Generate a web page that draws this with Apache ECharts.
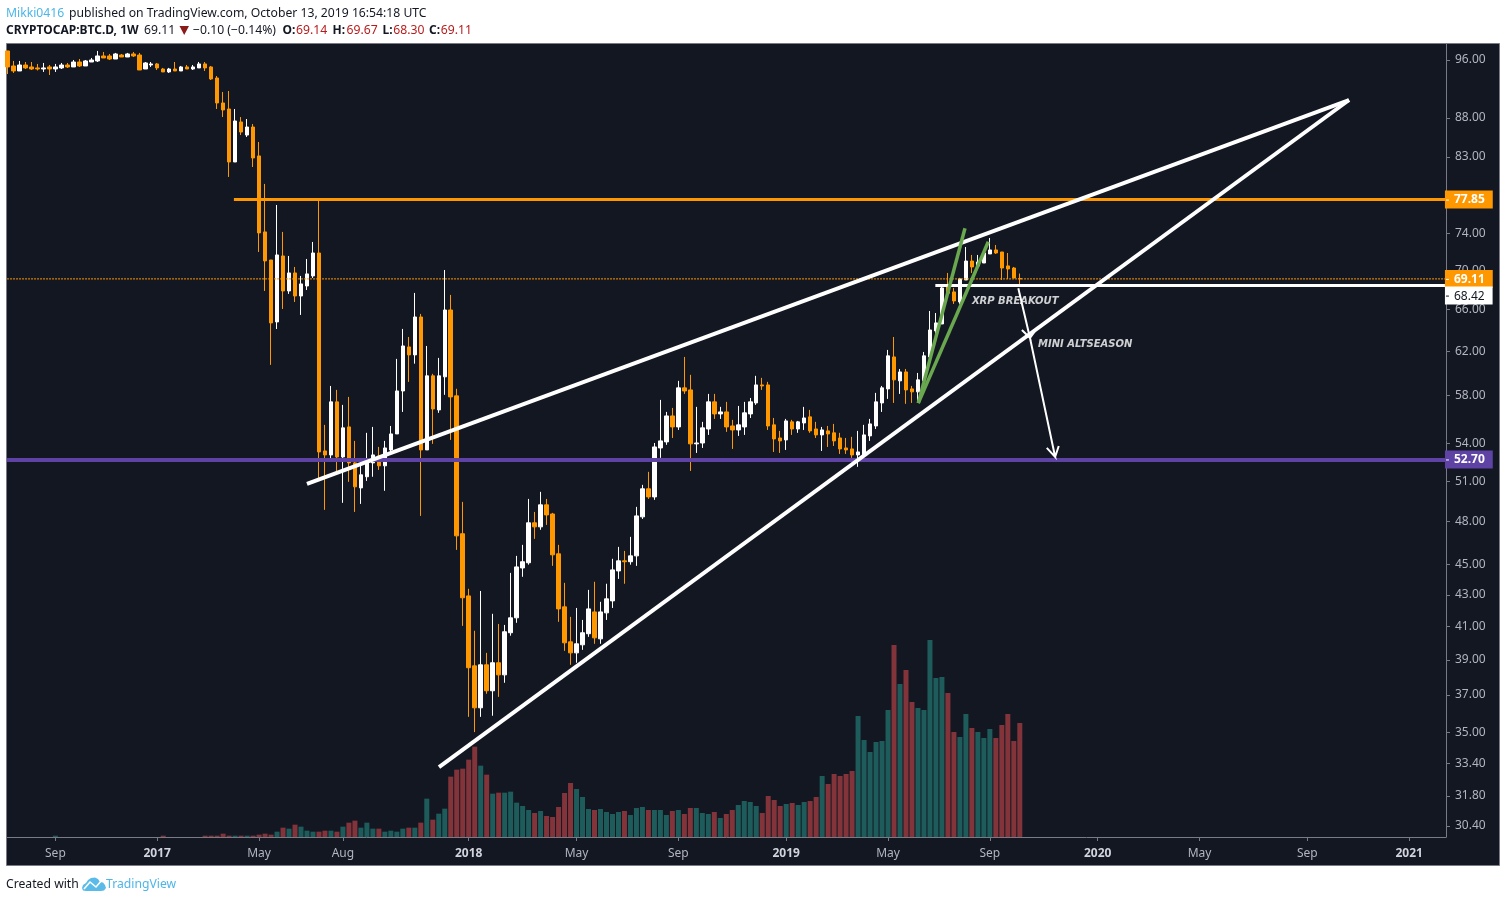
<!DOCTYPE html>
<html><head><meta charset="utf-8">
<style>html,body{margin:0;padding:0;background:#fff}#c{width:1506px;height:902px}</style>
<script src="https://cdn.jsdelivr.net/npm/echarts@6/dist/echarts.min.js"></script>
</head><body><div id="c"></div>
<script>
const opens=[97.31,95.14,94.43,95.28,95.0,94.86,94.71,95.0,94.71,94.86,95.28,95.0,95.71,95.14,95.71,95.86,96.58,96.58,96.14,96.72,96.43,96.87,96.72,94.71,95.28,95.43,94.71,94.29,94.71,94.43,95.0,94.71,94.86,95.43,95.0,93.44,90.0,89.19,82.37,87.47,85.77,86.81,83.12,74.16,71.1,64.79,71.53,67.87,69.73,67.36,68.38,69.42,71.85,53.38,53.06,57.46,52.9,55.34,52.43,50.5,51.35,52.43,52.98,52.2,53.46,54.76,58.41,62.4,61.66,65.27,53.46,59.75,56.77,59.66,65.96,57.98,47.14,42.94,38.66,36.3,38.72,37.24,38.84,38.14,40.63,41.55,44.78,45.13,47.92,47.63,49.23,48.56,45.74,42.24,40.08,39.42,39.9,40.57,41.92,40.26,41.86,42.62,44.58,45.26,45.2,45.6,48.35,50.43,49.82,53.62,54.11,56.26,55.34,58.68,58.5,53.95,54.02,55.17,57.46,56.43,56.6,55.42,55.09,55.34,56.43,57.37,58.94,58.94,55.51,54.43,54.27,55.76,55.17,55.67,56.18,55.17,54.68,55.01,54.85,54.43,53.62,53.54,53.06,53.06,54.6,55.42,57.37,58.59,61.47,59.3,60.1,58.59,58.33,59.3,61.47,63.92,64.59,68.48,67.77,66.76,69.0,70.99,70.47,70.78,71.75,72.18,71.96,70.47,70.25,69.14];
const highs=[97.31,95.86,95.86,95.71,95.71,95.43,95.57,95.28,95.43,95.57,95.57,96.0,96.14,96.0,96.29,97.31,97.16,96.87,97.02,96.87,97.02,97.16,97.02,95.71,95.71,95.57,94.86,94.86,95.71,95.14,95.28,95.28,95.71,95.71,95.14,93.72,91.5,91.63,89.19,88.12,87.86,87.2,84.88,79.7,71.1,77.22,74.16,71.53,70.36,69.42,71.21,73.05,77.85,55.51,58.85,58.5,57.2,57.89,54.19,52.2,54.85,55.34,53.7,54.19,55.42,61.29,64.11,63.34,67.67,65.57,62.49,59.93,61.38,70.04,67.47,58.6,49.45,43.4,40.75,43.26,39.42,41.8,41.17,41.11,44.45,45.6,46.36,49.67,48.71,50.2,49.67,48.64,46.36,43.79,41.61,42.17,41.42,43.33,43.86,42.56,43.73,45.4,46.22,45.94,46.92,49.08,50.73,51.73,54.02,57.63,56.6,56.94,59.3,61.47,59.84,57.03,55.76,58.15,58.15,57.03,57.46,55.93,57.11,57.46,57.8,59.75,59.57,59.21,56.09,55.01,56.01,55.93,55.84,57.03,56.77,55.76,55.34,55.42,55.59,54.85,54.43,54.52,55.01,55.51,56.01,58.24,58.85,62.12,63.34,60.37,60.37,58.85,60.01,61.93,65.86,65.66,68.3,69.73,68.18,69.21,72.5,71.64,71.64,71.96,73.49,72.72,71.96,71.85,70.36,69.67];
const lows=[94.0,94.15,94.43,94.71,94.57,94.5,94.29,93.86,94.29,94.71,94.86,95.0,95.0,95.14,95.71,95.71,96.29,96.0,96.14,96.43,96.43,96.43,94.57,94.71,95.0,94.57,94.29,94.15,94.43,94.43,94.71,94.57,94.86,94.43,93.16,89.19,88.12,80.54,82.37,85.77,85.52,81.75,71.96,67.87,60.74,64.1,66.06,67.57,66.76,65.47,67.97,69.21,51.03,48.86,52.75,51.73,49.38,50.96,48.71,49.3,51.03,51.35,51.88,50.28,53.3,54.76,56.6,59.21,60.85,48.42,53.46,53.95,56.52,58.07,54.27,46.01,41.05,35.81,35.0,35.81,37.07,35.87,36.9,37.69,40.45,41.24,44.19,45.0,46.78,47.42,47.77,44.92,41.3,39.54,38.72,38.84,39.6,40.38,39.96,39.96,41.42,42.17,44.05,43.73,45.0,44.92,48.2,49.67,49.6,52.83,53.87,54.43,55.09,58.15,51.8,53.22,53.62,54.68,56.01,56.01,54.93,53.54,54.6,54.68,56.09,57.2,58.5,55.09,53.3,53.22,53.46,54.68,54.85,55.09,54.85,54.43,53.38,53.7,53.78,53.14,53.14,52.83,52.12,53.0,54.19,55.17,56.6,57.72,57.37,58.15,57.29,57.37,57.37,59.12,61.38,62.78,64.59,67.26,66.56,66.56,69.0,69.73,70.36,70.78,71.75,71.75,69.0,69.11,69.21,68.30];
const closes=[95.0,94.43,95.28,94.86,94.71,94.71,94.86,94.71,95.0,95.28,95.0,95.71,95.14,95.86,96.0,96.58,96.29,96.14,96.87,96.43,96.87,96.58,94.57,95.57,95.43,94.86,94.29,94.71,94.43,95.0,94.71,95.0,95.43,94.86,93.3,90.0,89.06,82.37,87.6,86.16,86.81,82.87,74.05,71.0,64.69,71.64,67.87,69.73,67.36,68.59,69.63,71.85,53.3,53.06,57.46,52.9,55.26,52.43,50.58,51.5,52.6,53.06,52.2,53.62,54.76,58.41,62.49,61.66,65.27,53.46,59.75,56.85,59.75,65.96,57.89,46.99,42.82,38.55,36.3,38.72,37.24,38.84,38.14,40.69,41.55,44.85,45.2,47.92,47.63,49.23,48.49,45.67,42.11,40.02,39.42,39.96,40.63,42.11,40.32,41.92,42.75,44.65,45.26,45.2,45.6,48.42,50.43,49.82,53.7,54.19,56.26,55.34,58.68,58.41,53.95,54.02,55.26,57.46,56.43,56.6,55.34,55.09,55.51,56.52,57.46,58.94,58.85,55.42,54.35,54.19,55.84,55.17,55.76,56.09,55.01,54.68,55.09,54.76,54.19,53.54,53.46,53.06,53.3,54.68,55.59,57.46,58.68,61.57,59.39,60.1,58.5,58.33,59.39,61.57,64.01,64.69,68.18,67.64,66.86,69.11,70.99,70.36,70.89,71.85,72.18,71.85,70.25,70.15,69.21,69.11];
const volumes=[0,0,0,0,0,0,0,0,4,0,0,0,0,0,0,0,0,0,0,0,0,0,0,0,0,0,4,0,0,0,0,0,0,4,4,4,10,4,4,4,4,4,7,10,7,16,28,25,37,31,19,16,16,19,19,16,31,43,49,28,43,25,25,16,19,16,25,28,28,43,115,52,70,85,181,202,205,232,271,214,187,130,133,133,136,103,93,81,72,78,63,60,90,132,162,144,120,84,81,84,75,69,75,78,66,87,90,81,81,81,66,78,81,69,87,87,72,69,75,57,69,81,96,108,105,93,72,123,111,93,99,102,96,105,108,120,183,159,189,183,189,198,363,291,255,285,288,381,576,459,501,405,387,381,591,477,480,432,315,300,369,327,315,297,324,297,336,369,288,342];
const volumeAxisMax=2379;
const priceTicks=[96,88,83,74,70,66,62,58,54,51,48,45,43,41,39,37,35,33.4,31.8,30.4];
const timeTickIndex=[8,25,42,56,77,95,112,130,147,164,182,199,217,234];
const timeTickLabels=['Sep','2017','May','Aug','2018','May','Sep','2019','May','Sep','2020','May','Sep','2021'];
const upperWedge=[[50.0,50.8],[223.96,90.4]];
const lowerWedge=[[72.04,33.21],[223.96,90.4]];
const greenA=[[152.05,57.35],[159.85,74.57]];
const greenB=[[152.05,57.35],[163.74,73.08]];
const arrowPath=[[168.75,68.15],[170.7,63.25],[169.35,64.01],[170.7,63.25],[171.8,64.1],[170.7,63.25],[174.9,52.9],[173.5,53.62],[174.9,52.9],[175.5,53.78]];
const notes=[{t:'XRP BREAKOUT',p:[161.0,66.86]},{t:'MINI ALTSEASON',p:[172.04,62.6]}];
const levelResistance=77.85, levelSupport=52.70, levelLast=69.11, levelBreakout=68.42;
const xMin=-0.08, xMax=240.15, yMin=29.9, yMax=98.33;

const idx=opens.map((_,i)=>i);
const candles=idx.map(i=>[i,opens[i],closes[i],lows[i],highs[i]]);
const vols=idx.map(i=>({value:[i,volumes[i]],itemStyle:{color:closes[i]>=opens[i]?'#1d5c5b':'#82343a'}}));
const UI='"Noto Sans",sans-serif';
const tag=(v,bg,fg,off)=>({show:true,position:'end',distance:0,offset:off||[-1,0],formatter:'{t|}{v|'+v.toFixed(2)+'}',backgroundColor:bg,padding:[3,8,2,1],
  rich:{t:{width:3,height:1,backgroundColor:fg},v:{color:fg,fontFamily:UI,fontSize:12,fontWeight:fg==='#ffffff'?'bold':'normal',lineHeight:13,padding:[0,0,0,5]}}});
const seg=(x0,v,style,label)=>[{coord:[x0,v],lineStyle:style,label},{coord:[xMax-0.01,v]}];
const line=(name,data,color,width,z,type)=>({name,type:'line',data,symbol:'none',silent:true,animation:false,z:z||6,lineStyle:{color,width,join:'miter',type:type||'solid'},xAxisIndex:0,yAxisIndex:0});
const H='12.2px '+UI, HB='bold 12px '+UI;
const txt=(x,y,text,fill,font)=>({type:'text',x,y,silent:true,z:20,style:{text,fill,font:font||H,textVerticalAlign:'middle'}});

const chart=echarts.init(document.getElementById('c'),null,{renderer:'canvas'});
chart.setOption({
 animation:false,backgroundColor:'#ffffff',
 grid:{left:7,top:44,width:1439,height:793,containLabel:false},
 xAxis:{type:'value',min:xMin,max:xMax,splitLine:{show:false},
  axisLine:{show:true,lineStyle:{color:'#787b86'}},
  axisTick:{show:true,length:4,lineStyle:{color:'#787b86'},customValues:timeTickIndex},
  axisLabel:{show:true,margin:11,customValues:timeTickIndex,hideOverlap:false,
   color:'#b2b5be',fontFamily:UI,fontSize:12,
   formatter:v=>{const s=timeTickLabels[timeTickIndex.indexOf(v)];return /^\d/.test(s)?'{y|'+s+'}':s;},
   rich:{y:{color:'#d1d4dc',fontFamily:UI,fontSize:12,fontWeight:'bold'}}}},
 yAxis:[{type:'log',logBase:10,position:'right',min:yMin,max:yMax,splitLine:{show:false},
  axisLine:{show:true,onZero:false,lineStyle:{color:'#787b86'}},
  axisTick:{show:true,length:4,lineStyle:{color:'#787b86'},customValues:priceTicks},
  axisLabel:{show:true,margin:9,padding:[2,0,0,0],customValues:priceTicks,hideOverlap:false,color:'#b2b5be',fontFamily:UI,fontSize:12,formatter:v=>(+v).toFixed(2)}},
  {type:'value',show:false,min:0,max:volumeAxisMax,splitLine:{show:false}}],
 series:[
  {name:'Volume',type:'bar',data:vols,encode:{x:0,y:1},xAxisIndex:0,yAxisIndex:1,barWidth:5,silent:true,z:1},
  {name:'BTC.D',type:'candlestick',data:candles,encode:{x:0,y:[1,2,3,4]},xAxisIndex:0,yAxisIndex:0,barWidth:4,silent:true,z:2,
   itemStyle:{color:'#ffffff',color0:'#ff9800',borderColor:'#ffffff',borderColor0:'#ff9800',borderWidth:1}},
  line('Last price',[[xMin+0.01,levelLast],[xMax-0.01,levelLast]],'#ff9800',1,4,[2,1]),
  {name:'Levels',type:'line',data:[],silent:true,z:5,xAxisIndex:0,yAxisIndex:0,
   markLine:{silent:true,symbol:'none',animation:false,z:5,precision:2,data:[
    seg(37.8,levelResistance,{color:'#ff9800',width:3,type:'solid'},tag(levelResistance,'#ff9800','#ffffff')),
    seg(xMin+0.01,levelSupport,{color:'#5e43a5',width:4,type:'solid'},tag(levelSupport,'#5e43a5','#ffffff')),
    seg(xMax-0.5,levelLast,{color:'rgba(0,0,0,0)',width:1,type:'solid'},tag(levelLast,'#ff9800','#ffffff')),
    seg(154.9,levelBreakout,{color:'#ffffff',width:3,type:'solid'},tag(levelBreakout,'#ffffff','#131722',[-1,10]))
   ]}},
  line('Upper wedge',upperWedge,'#ffffff',4),
  line('Lower wedge',lowerWedge,'#ffffff',4),
  line('Green A',greenA,'#6aa84f',3.5),
  line('Green B',greenB,'#6aa84f',3.5),
  line('Arrow',arrowPath,'#ffffff',2,7),
  {name:'Notes',type:'scatter',symbolSize:0,silent:true,z:8,xAxisIndex:0,yAxisIndex:0,
   data:notes.map(n=>({value:n.p,label:{show:true,position:'right',distance:0,formatter:n.t,color:'#ffffff',fontFamily:'"DejaVu Sans",sans-serif',fontSize:10,fontWeight:'bold',fontStyle:'italic'}}))}
 ],
 graphic:[
  {type:'rect',z:-10,silent:true,shape:{x:6.5,y:43.5,width:1493,height:822},style:{fill:'#131722',stroke:'#787b86',lineWidth:1}},
  txt(6,14,'Mikki0416','#4db6e8'),
  txt(69,14,'published on TradingView.com, October 13, 2019 16:54:18 UTC','#131722'),
  txt(6,31,'CRYPTOCAP:BTC.D, 1W','#131722',HB),
  txt(144,31,'69.11','#131722'),
  {type:'polygon',z:20,silent:true,shape:{points:[[179.5,26],[189,26],[184.2,35]]},style:{fill:'#8b1a1a'}},
  txt(193,31,'−0.10 (−0.14%)','#131722'),
  txt(282.5,31,'O:','#131722',HB),
  txt(296,31,'69.14','#b71c1c'),
  txt(332.5,31,'H:','#131722',HB),
  txt(346.5,31,'69.67','#b71c1c'),
  txt(382.5,31,'L:','#131722',HB),
  txt(393.3,31,'68.30','#b71c1c'),
  txt(429,31,'C:','#131722',HB),
  txt(440.7,31,'69.11','#b71c1c'),
  txt(6,885,'Created with','#131722'),
  {type:'polygon',z:20,silent:true,shape:{points:[[82,888],[83,885],[86,883],[88,880],[91,878],[95,877.5],[98,879],[100,882],[103,882.5],[105,885],[106,888],[104,890.5],[101,891],[86,891],[83,890.5]]},style:{fill:'#5bbbe8'}},
  {type:'polyline',z:21,silent:true,shape:{points:[[84,889],[90,882],[96,887],[102,880]]},style:{stroke:'#ffffff',lineWidth:1.6,fill:null}},
  txt(106,885,'TradingView','#4db6e8')
 ]
});
</script></body></html>
